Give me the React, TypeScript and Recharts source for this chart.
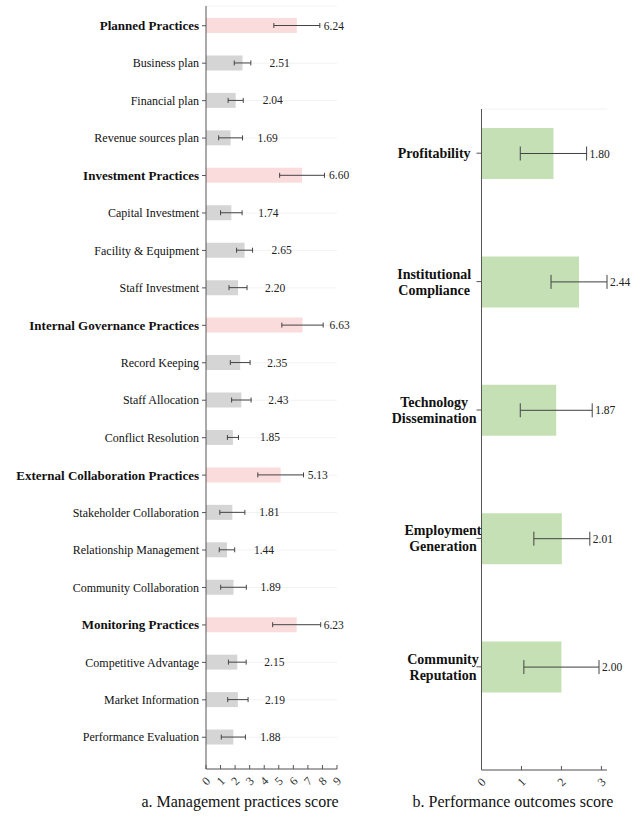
import React from "react"
import {
  BarChart,
  Bar,
  XAxis,
  YAxis,
  CartesianGrid,
  ErrorBar,
  LabelList,
  Cell,
} from "recharts"

const FONT = '"Liberation Serif", "Times New Roman", serif'

// a. management practices
const mgmtCategories = [
  "Planned Practices",
  "Business plan",
  "Financial plan",
  "Revenue sources plan",
  "Investment Practices",
  "Capital Investment",
  "Facility & Equipment",
  "Staff Investment",
  "Internal Governance Practices",
  "Record Keeping",
  "Staff Allocation",
  "Conflict Resolution",
  "External Collaboration Practices",
  "Stakeholder Collaboration",
  "Relationship Management",
  "Community Collaboration",
  "Monitoring Practices",
  "Competitive Advantage",
  "Market Information",
  "Performance Evaluation",
]
const mgmtHeaders = [
  "Planned Practices",
  "Investment Practices",
  "Internal Governance Practices",
  "External Collaboration Practices",
  "Monitoring Practices",
]
const mgmtScores = [6.24, 2.51, 2.04, 1.69, 6.6, 1.74, 2.65, 2.2, 6.63, 2.35, 2.43, 1.85, 5.13, 1.81, 1.44, 1.89, 6.23, 2.15, 2.19, 1.88]
const mgmtErrors = [1.58, 0.57, 0.52, 0.82, 1.54, 0.74, 0.55, 0.62, 1.42, 0.68, 0.67, 0.38, 1.57, 0.86, 0.53, 0.88, 1.65, 0.61, 0.7, 0.83]
const mgmtTicks = [0, 1, 2, 3, 4, 5, 6, 7, 8, 9]

// b. performance outcomes
const outcomeCategories = [
  "Profitability",
  "Institutional\nCompliance",
  "Technology\nDissemination",
  "Employment\nGeneration",
  "Community\nReputation",
]
const outcomeScores = [1.8, 2.44, 1.87, 2.01, 2.0]
const outcomeErrors = [0.83, 0.7, 0.9, 0.7, 0.94]
const outcomeTicks = [0, 1, 2, 3]

const mgmtData = mgmtCategories.map((name, i) => ({
  name,
  value: mgmtScores[i],
  err: mgmtErrors[i],
  header: mgmtHeaders.includes(name),
}))

const outcomeData = outcomeCategories.map((name, i) => ({
  name,
  value: outcomeScores[i],
  err: outcomeErrors[i],
}))

const PINK = "#fadcdc"
const GREY = "#d5d5d5"
const GREEN = "#c5e0b4"
const AXIS = "#555"
const ERR = "#444"

function makeValueLabel(errs: number[], minGap: number) {
  return (props: any) => {
    const { x, y, width, height, value, index } = props
    if (value == null) return null
    const px = width / value
    const errEnd = x + (value + errs[index]) * px
    const lx = Math.max(errEnd + 3, x + width + minGap)
    return (
      <text x={lx} y={y + height / 2} dy="0.35em" fontSize={11.5} fontFamily={FONT} fill="#222">
        {Number(value).toFixed(2)}
      </text>
    )
  }
}

const XTick = ({ x, y, payload }: any) => (
  <text
    x={x}
    y={y}
    dy="0.35em"
    textAnchor="middle"
    transform={`rotate(-45 ${x} ${y})`}
    fontSize={12}
    fontFamily={FONT}
    fill="#333"
  >
    {payload.value}
  </text>
)

const MgmtTick = ({ x, y, payload }: any) => {
  const bold = mgmtHeaders.includes(payload.value)
  return (
    <text
      x={x}
      y={y}
      dy="0.35em"
      textAnchor="end"
      fontSize={bold ? 13 : 12}
      fontWeight={bold ? "bold" : "normal"}
      fontFamily={FONT}
      fill="#111"
    >
      {payload.value}
    </text>
  )
}

const OutcomeTick = ({ x, y, payload }: any) => {
  const lines: string[] = String(payload.value).split("\n")
  const w = Math.max(...lines.map((l) => l.length)) * 5.9
  const cx = x - w / 2
  const start = -((lines.length - 1) * 16) / 2
  return (
    <text
      x={cx}
      y={y}
      textAnchor="middle"
      fontSize={14}
      fontWeight="bold"
      fontFamily={FONT}
      fill="#111"
    >
      {lines.map((l, i) => (
        <tspan key={i} x={cx} y={y + start + i * 16} dy="0.35em">
          {l}
        </tspan>
      ))}
    </text>
  )
}

export default function App() {
  return (
    <div style={{ position: "absolute", left: 0, top: 0, width: 644, height: 817, background: "#fff" }}>
      <div style={{ position: "absolute", left: 0, top: 0 }}>
        <BarChart
          width={360}
          height={817}
          data={mgmtData}
          layout="vertical"
          margin={{ top: 6, right: 23, bottom: 18, left: 0 }}
        >
          <CartesianGrid horizontal={true} vertical={false} stroke="#f2f2f2" />
          <XAxis
            type="number"
            domain={[0, 9]}
            ticks={mgmtTicks}
            interval={0}
            height={30}
            stroke={AXIS}
            tickSize={-4}
            tickMargin={16}
            tick={<XTick />}
          />
          <YAxis
            type="category"
            dataKey="name"
            width={206}
            interval={0}
            stroke={AXIS}
            tickSize={4}
            tickMargin={3}
            padding={{ top: 1, bottom: 13 }}
            tick={<MgmtTick />}
          />
          <Bar dataKey="value" barSize={15} isAnimationActive={false}>
            {mgmtData.map((d, i) => (
              <Cell key={`c-${i}`} fill={d.header ? PINK : GREY} />
            ))}
            <ErrorBar dataKey="err" direction="x" width={2.5} stroke={ERR} strokeWidth={1} />
            <LabelList dataKey="value" content={makeValueLabel(mgmtErrors, 27)} />
          </Bar>
        </BarChart>
      </div>

      <div style={{ position: "absolute", left: 360, top: 0 }}>
        <BarChart
          width={284}
          height={817}
          data={outcomeData}
          layout="vertical"
          margin={{ top: 109, right: 37, bottom: 17, left: 0 }}
        >
          <CartesianGrid horizontal={true} vertical={false} stroke="#f2f2f2" />
          <XAxis
            type="number"
            domain={[0, 3]}
            ticks={outcomeTicks}
            interval={0}
            height={30}
            stroke={AXIS}
            tickSize={-4}
            tickMargin={16}
            tick={<XTick />}
          />
          <YAxis
            type="category"
            dataKey="name"
            width={121.5}
            interval={0}
            stroke={AXIS}
            tickSize={5}
            tickMargin={4}
            padding={{ top: -20, bottom: 39 }}
            tick={<OutcomeTick />}
          />
          <Bar dataKey="value" barSize={51} fill={GREEN} isAnimationActive={false}>
            <ErrorBar dataKey="err" direction="x" width={7} stroke={ERR} strokeWidth={1} />
            <LabelList dataKey="value" content={makeValueLabel(outcomeErrors, 25)} />
          </Bar>
        </BarChart>
      </div>

      <div
        style={{
          position: "absolute",
          left: 140,
          width: 200,
          top: 793,
          textAlign: "center",
          fontFamily: FONT,
          fontSize: 16,
          color: "#111",
          whiteSpace: "nowrap",
        }}
      >
        a. Management practices score
      </div>
      <div
        style={{
          position: "absolute",
          left: 410,
          width: 206,
          top: 793,
          textAlign: "center",
          fontFamily: FONT,
          fontSize: 16,
          color: "#111",
          whiteSpace: "nowrap",
        }}
      >
        b. Performance outcomes score
      </div>
    </div>
  )
}
